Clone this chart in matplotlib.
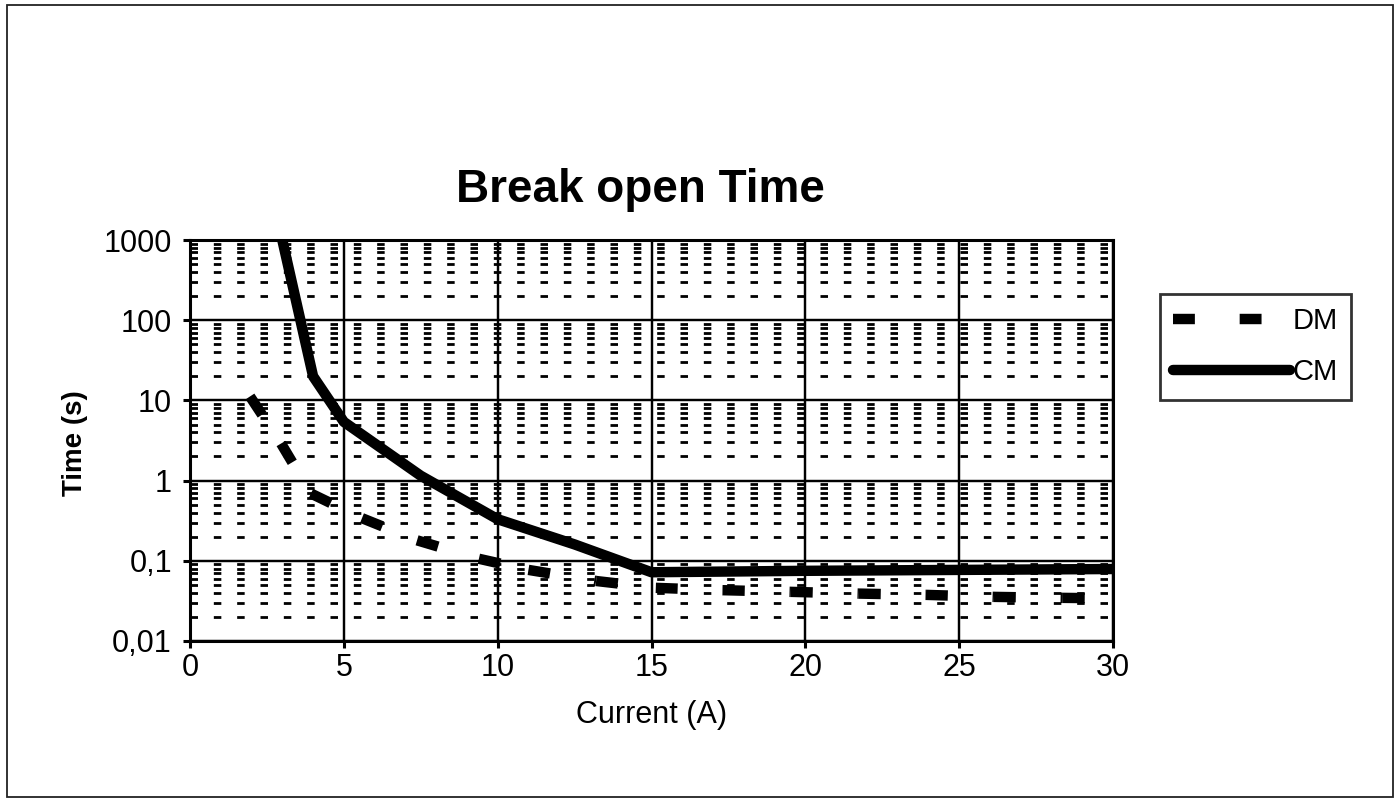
import matplotlib
matplotlib.use("Agg")
import matplotlib.pyplot as plt
from matplotlib.lines import Line2D
from matplotlib.ticker import LogLocator, FixedLocator, FuncFormatter, NullFormatter
from matplotlib.patches import Rectangle

plt.rcParams['font.family'] = ['Liberation Sans', 'DejaVu Sans']

# CM curve (current in A, time in s)
cm_current = [3, 4, 5, 7.5, 10, 12.5, 15, 20, 25, 30]
cm_time = [1000, 20, 5.4, 1.15, 0.33, 0.16, 0.072, 0.075, 0.077, 0.079]

# DM curve (measured points)
dm_current = [1.95, 2.96, 3.93, 5.59, 7.38, 9.39, 11.0, 13.2, 15.14, 17.32, 19.53, 21.74, 23.92, 26.13, 28.37, 30]
dm_time = [11.2, 2.9, 0.69, 0.34, 0.18, 0.106, 0.077, 0.056, 0.046, 0.043, 0.041, 0.039, 0.0376, 0.0355, 0.0345, 0.034]

x_ticks = [0, 5, 10, 15, 20, 25, 30]
y_ticks = [0.01, 0.1, 1, 10, 100, 1000]
y_tick_labels = ['0,01', '0,1', '1', '10', '100', '1000']

fig = plt.figure(figsize=(13.96, 8), dpi=100)
ax = fig.add_axes([190 / 1396, 1 - 641 / 800, (1113 - 190) / 1396, (641 - 240) / 800])

dm_dashes = (2.1, 4.3)
# the dash pattern restarts at every data point, like the original chart
for i in range(len(dm_current) - 1):
    ax.plot(dm_current[i:i + 2], dm_time[i:i + 2], color='black', lw=7.5,
            dashes=dm_dashes, dash_capstyle='butt', zorder=4)
ax.plot(cm_current, cm_time, color='black', lw=7.5, solid_capstyle='round',
        solid_joinstyle='round', zorder=5)

ax.set_yscale('log')
ax.set_xlim(0, 30)
ax.set_ylim(0.01, 1000)
ax.xaxis.set_major_locator(FixedLocator(x_ticks))
ax.yaxis.set_major_locator(FixedLocator(y_ticks))
ax.yaxis.set_major_formatter(FuncFormatter(lambda v, p: y_tick_labels[y_ticks.index(v)] if v in y_ticks else ''))
ax.yaxis.set_minor_locator(LogLocator(base=10, subs=range(2, 10), numticks=20))
ax.yaxis.set_minor_formatter(NullFormatter())

# gridlines
ax.grid(True, which='major', color='black', lw=1.75, zorder=1)
ax.yaxis.grid(True, which='minor', color='black', lw=2.0, linestyle=(0, (2.7, 5.7)))
ax.set_axisbelow(True)

for s in ax.spines.values():
    s.set_linewidth(2.2)
    s.set_color('black')

ax.tick_params(axis='both', which='major', length=5, width=2.2, direction='out',
               labelsize=22, pad=8, colors='black')
ax.tick_params(axis='y', which='minor', length=0)
ax.tick_params(axis='x', pad=4)

fig.text(640 / 1396, 1 - 190 / 800, 'Break open Time', ha='center', va='center',
         fontsize=33, fontweight='bold')
fig.text(652 / 1396, 1 - 715 / 800, 'Current (A)', ha='center', va='center', fontsize=22)
fig.text(75 / 1396, 1 - 443 / 800, 'Time (s)', ha='center', va='center', fontsize=20,
         fontweight='bold', rotation=90)

handles = [Line2D([], [], color='black', lw=7.5, dashes=dm_dashes, dash_capstyle='butt'),
           Line2D([], [], color='black', lw=7.5, solid_capstyle='round')]
leg = ax.legend(handles, ['DM', 'CM'], loc='upper left',
                bbox_to_anchor=(1160 / 1396, 1 - 294 / 800),
                bbox_transform=fig.transFigure, fontsize=21, frameon=True,
                fancybox=False, handlelength=4.0, handletextpad=0.1,
                borderpad=0.45, labelspacing=0.8, borderaxespad=0)
leg.get_frame().set_edgecolor('black')
leg.get_frame().set_linewidth(2.0)

# outer chart frame
fig.patches.append(Rectangle((7 / 1396, 3 / 800), 1386 / 1396, 792 / 800,
                             transform=fig.transFigure, fill=False,
                             edgecolor='#222222', lw=1.3))

fig.savefig('out.png', dpi=100)
